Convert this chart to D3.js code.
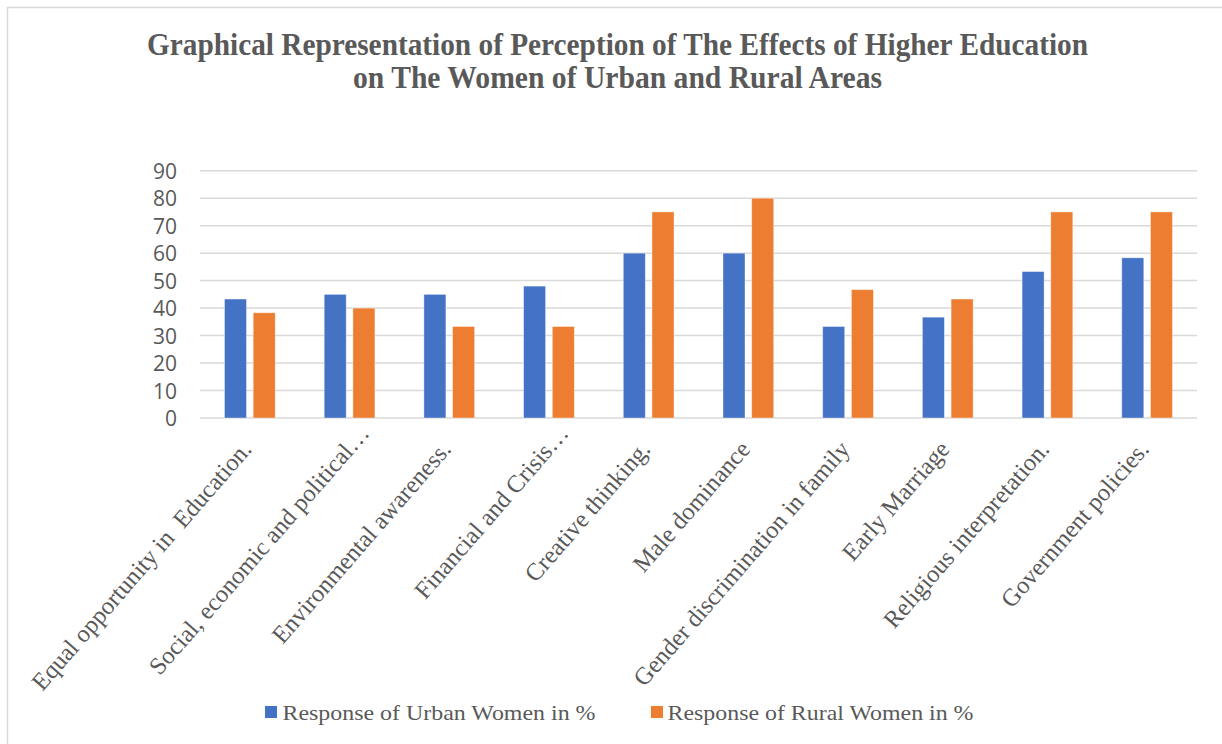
<!DOCTYPE html>
<html>
<head>
<meta charset="utf-8">
<script src="https://cdn.jsdelivr.net/npm/d3@7"></script>
<style>
  html, body { margin: 0; padding: 0; background: #fff; }
  svg { display: block; }
  .serif { font-family: 'Liberation Serif', 'Times New Roman', Times, serif; }
  .sans { font-family: 'Open Sans', 'Noto Sans', sans-serif; }
</style>
</head>
<body>
<svg id="chart" width="1222" height="744"></svg>
<script>
const titleLines = [
  "Graphical Representation of Perception of The Effects of Higher Education",
  "on The Women of Urban and Rural Areas"
];
const categories = [
  "Equal opportunity in  Education.",
  "Social, economic and political…",
  "Environmental awareness.",
  "Financial and Crisis…",
  "Creative thinking.",
  "Male dominance",
  "Gender discrimination in family",
  "Early Marriage",
  "Religious interpretation.",
  "Government policies."
];
const seriesNames = ["Response of Urban Women in %", "Response of Rural Women in %"];
const urbanValues = [43.3, 45, 45, 48, 60, 60, 33.3, 36.7, 53.3, 58.3];
const ruralValues = [38.3, 40, 33.3, 33.3, 75, 80, 46.7, 43.3, 75, 75];
const yTicks = [0, 10, 20, 30, 40, 50, 60, 70, 80, 90];
const colors = ["#4472C4", "#ED7D31"];

const svg = d3.select("#chart");
const W = 1222, H = 744;
const plot = { left: 200, right: 1197, top: 170.7, bottom: 418 };
const textColor = "#595959";

// chart border
svg.append("rect")
  .attr("x", 7.5).attr("y", 7.5)
  .attr("width", W + 20).attr("height", H + 20)
  .attr("fill", "#fff").attr("stroke", "#d9d9d9").attr("stroke-width", 1.5);

// title
const titleWidths = [941, 529];
svg.append("g").selectAll("text").data(titleLines).join("text")
  .attr("class", "serif")
  .attr("x", 617.5)
  .attr("y", (d, i) => 55 + i * 33)
  .attr("text-anchor", "middle")
  .attr("font-weight", "bold")
  .attr("font-size", 32)
  .attr("fill", textColor)
  .attr("textLength", (d, i) => titleWidths[i])
  .attr("lengthAdjust", "spacingAndGlyphs")
  .text(d => d);

const x0 = d3.scaleBand().domain(categories).range([plot.left, plot.right]).paddingInner(0).paddingOuter(0);
const x1 = d3.scaleBand().domain(seriesNames).range([0, x0.bandwidth()]).paddingInner(0.233).paddingOuter(0.853);
const y = d3.scaleLinear().domain([0, 90]).range([plot.bottom, plot.top]);

// gridlines
svg.append("g").selectAll("line").data(yTicks).join("line")
  .attr("x1", plot.left).attr("x2", plot.right)
  .attr("y1", d => y(d)).attr("y2", d => y(d))
  .attr("stroke", "#d9d9d9").attr("stroke-width", 1.5);

// y axis labels
const yAxis = d3.axisLeft(y).tickValues(yTicks).tickSize(0).tickPadding(0);
const gy = svg.append("g").attr("transform", `translate(177,0)`).call(yAxis);
gy.select(".domain").remove();
gy.attr("font-family", null).attr("font-size", null);
gy.selectAll("text")
  .attr("class", "sans")
  .attr("font-size", 21)
  .attr("fill", textColor)
  .attr("dy", "0.36em");

// bars
const rows = categories.map((c, i) => ({ cat: c, vals: [urbanValues[i], ruralValues[i]] }));
const groups = svg.append("g").selectAll("g").data(rows).join("g")
  .attr("transform", d => `translate(${x0(d.cat)},0)`);
groups.selectAll("rect").data(d => d.vals.map((v, j) => ({ s: seriesNames[j], v, j }))).join("rect")
  .attr("x", d => x1(d.s))
  .attr("width", x1.bandwidth())
  .attr("y", d => y(d.v))
  .attr("height", d => y(0) - y(d.v))
  .attr("fill", d => colors[d.j])
  .attr("stroke", "#ffffff").attr("stroke-opacity", 0.5).attr("stroke-width", 0.8);

// category labels
const gx = svg.append("g");
gx.selectAll("text").data(categories).join("text")
  .attr("class", "serif")
  .attr("transform", d => {
    const cx = x0(d) + x0.bandwidth() / 2;
    const trunc = d.endsWith("…");
    const ax = trunc ? cx + 21 : cx + 3;
    const ay = trunc ? 434 : 450;
    return `translate(${ax},${ay}) rotate(-49)`;
  })
  .attr("text-anchor", "end")
  .attr("font-size", 24.5)
  .attr("fill", textColor)
  .style("white-space", "pre")
  .text(d => d);

// legend
const legendItems = [
  { name: seriesNames[0], color: colors[0], sx: 265, tx: 282.5, w: 313 },
  { name: seriesNames[1], color: colors[1], sx: 651, tx: 667.5, w: 306 }
];
const lg = svg.append("g");
lg.selectAll("rect").data(legendItems).join("rect")
  .attr("x", d => d.sx).attr("y", 706)
  .attr("width", 12).attr("height", 12)
  .attr("fill", d => d.color);
lg.selectAll("text").data(legendItems).join("text")
  .attr("class", "serif")
  .attr("x", d => d.tx).attr("y", 720)
  .attr("font-size", 22)
  .attr("fill", textColor)
  .attr("textLength", d => d.w)
  .attr("lengthAdjust", "spacingAndGlyphs")
  .text(d => d.name);
</script>
</body>
</html>
